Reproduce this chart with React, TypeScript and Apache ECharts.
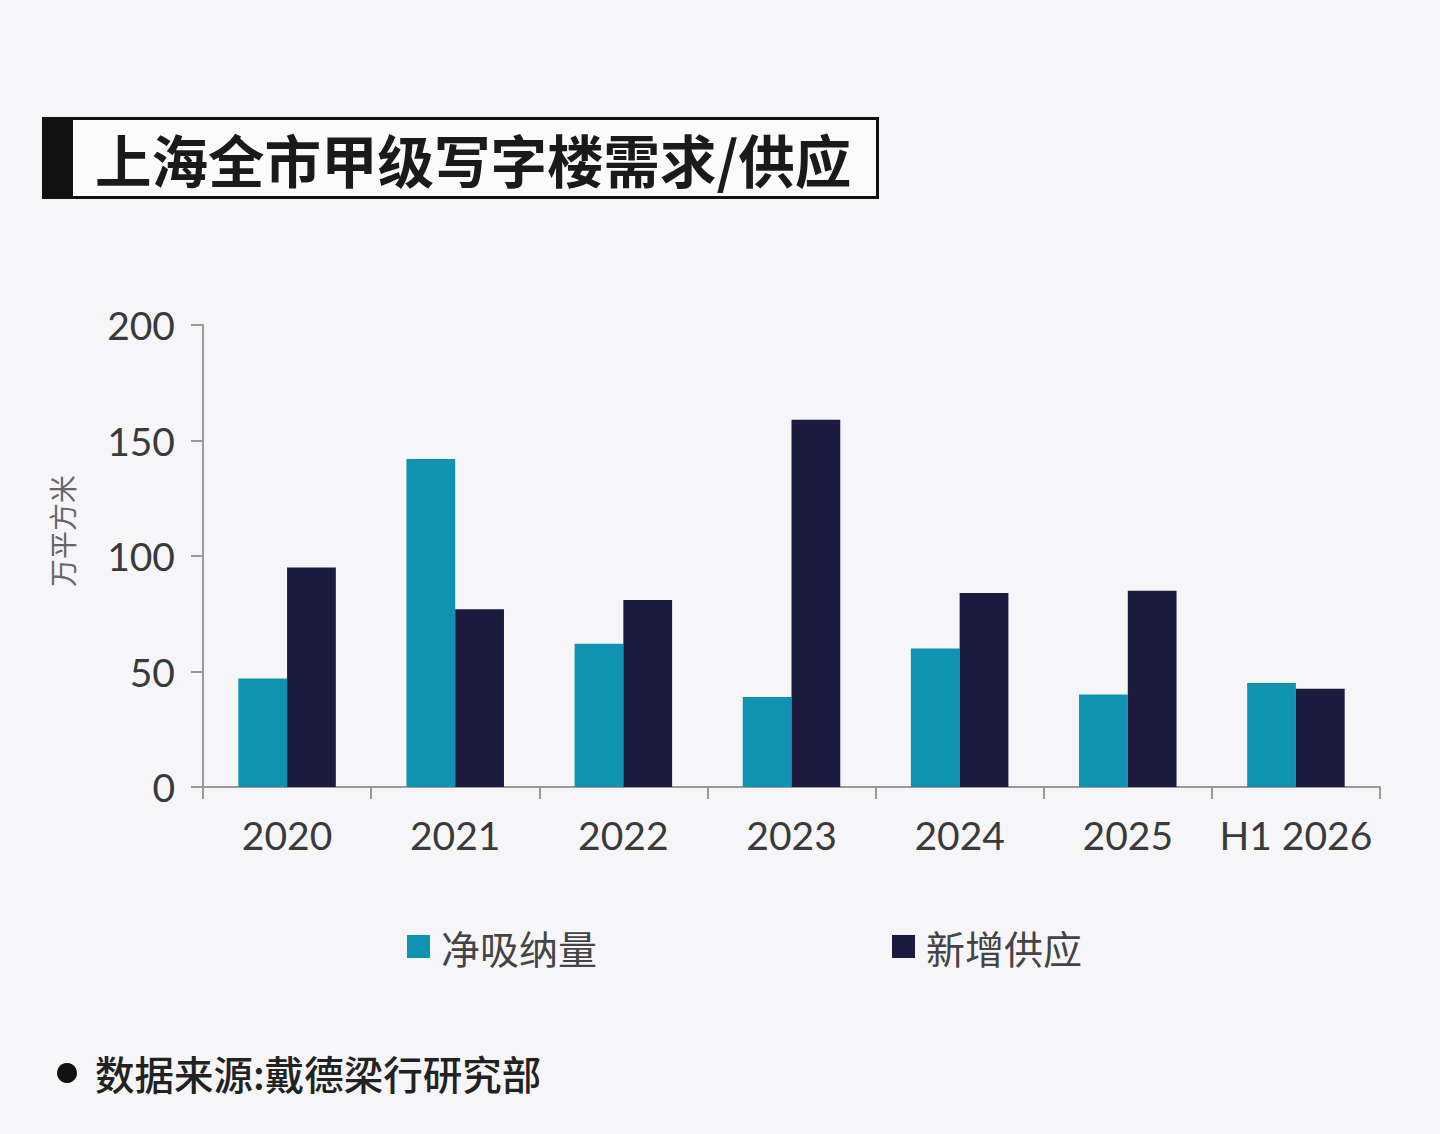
import React, { useEffect, useRef } from "react";
import * as echarts from "echarts";

const categories = ["2020", "2021", "2022", "2023", "2024", "2025", "H1 2026"];
const netAbsorption = [47, 142, 62, 39, 60, 40, 45];
const newSupply = [95, 77, 81, 159, 84, 85, 42.5];
const seriesNames = ["净吸纳量", "新增供应"];
const titleText = "上海全市甲级写字楼需求/供应";
const unitText = "万平方米";
const sourceText = "数据来源:戴德梁行研究部";

const TEAL = "#0f93b0";
const NAVY = "#1b1a3f";
const FONT = "Lato, 'Noto Sans CJK SC', sans-serif";

export default function App() {
  const ref = useRef<HTMLDivElement>(null);
  useEffect(() => {
    document.body.style.margin = "0";
    const chart = echarts.init(ref.current!, null, { renderer: "svg" });
    chart.setOption({
      animation: false,
      backgroundColor: "#f6f6f8",
      textStyle: { fontFamily: FONT },
      grid: { left: 203, right: 60, top: 325, bottom: 347, containLabel: false },
      legend: {
        data: seriesNames,
        left: 407,
        top: 927,
        padding: 0,
        icon: "rect",
        itemWidth: 23,
        itemHeight: 23,
        itemGap: 295,
        textStyle: { fontSize: 39, color: "#444", fontFamily: "'Noto Sans CJK SC', sans-serif", padding: [0, 0, 0, 6] },
      },
      xAxis: {
        type: "category",
        data: categories,
        axisLine: { lineStyle: { color: "#9a9a9a", width: 2 } },
        axisTick: { show: true, interval: 0, length: 12, lineStyle: { color: "#9a9a9a", width: 2 } },
        axisLabel: { interval: 0, fontSize: 39, color: "#3a3a3a", margin: 28, fontFamily: FONT },
      },
      yAxis: {
        type: "value",
        min: 0,
        max: 200,
        interval: 50,
        splitLine: { show: false },
        axisLine: { show: true, lineStyle: { color: "#9a9a9a", width: 2 } },
        axisTick: { show: true, length: 12, lineStyle: { color: "#9a9a9a", width: 2 } },
        axisLabel: { fontSize: 39, color: "#3a3a3a", margin: 28, fontFamily: FONT },
      },
      series: [
        {
          name: seriesNames[0],
          type: "bar",
          data: netAbsorption,
          itemStyle: { color: TEAL },
          barGap: "0%",
          barCategoryGap: "42%",
        },
        {
          name: seriesNames[1],
          type: "bar",
          data: newSupply,
          itemStyle: { color: NAVY },
          barGap: "0%",
          barCategoryGap: "42%",
        },
      ],
      graphic: [
        {
          type: "rect",
          shape: { x: 43.5, y: 118.5, width: 834, height: 79 },
          style: { fill: "#fbfbfb", stroke: "#111", lineWidth: 3 },
        },
        {
          type: "rect",
          shape: { x: 42, y: 117, width: 31, height: 82 },
          style: { fill: "#111" },
        },
        {
          type: "text",
          x: 95,
          y: 158,
          style: {
            text: titleText,
            fontSize: 56.5,
            fontWeight: "bold",
            fill: "#1a1a1a",
            fontFamily: "'Noto Sans CJK SC', sans-serif",
            verticalAlign: "middle",
            align: "left",
          },
        },
        {
          type: "text",
          x: 62,
          y: 531,
          rotation: Math.PI / 2,
          style: {
            text: unitText,
            fontSize: 28,
            fill: "#666",
            fontFamily: "'Noto Sans CJK SC', sans-serif",
            verticalAlign: "middle",
            align: "center",
          },
        },
        {
          type: "circle",
          shape: { cx: 67, cy: 1073, r: 10 },
          style: { fill: "#111" },
        },
        {
          type: "text",
          x: 95,
          y: 1072,
          style: {
            text: sourceText,
            fontSize: 39.5,
            fill: "#222",
            fontWeight: 500,
            fontFamily: "'Noto Sans CJK SC', sans-serif",
            verticalAlign: "middle",
            align: "left",
          },
        },
      ],
    });
    return () => chart.dispose();
  }, []);
  return <div ref={ref} style={{ width: 1440, height: 1134 }} />;
}
